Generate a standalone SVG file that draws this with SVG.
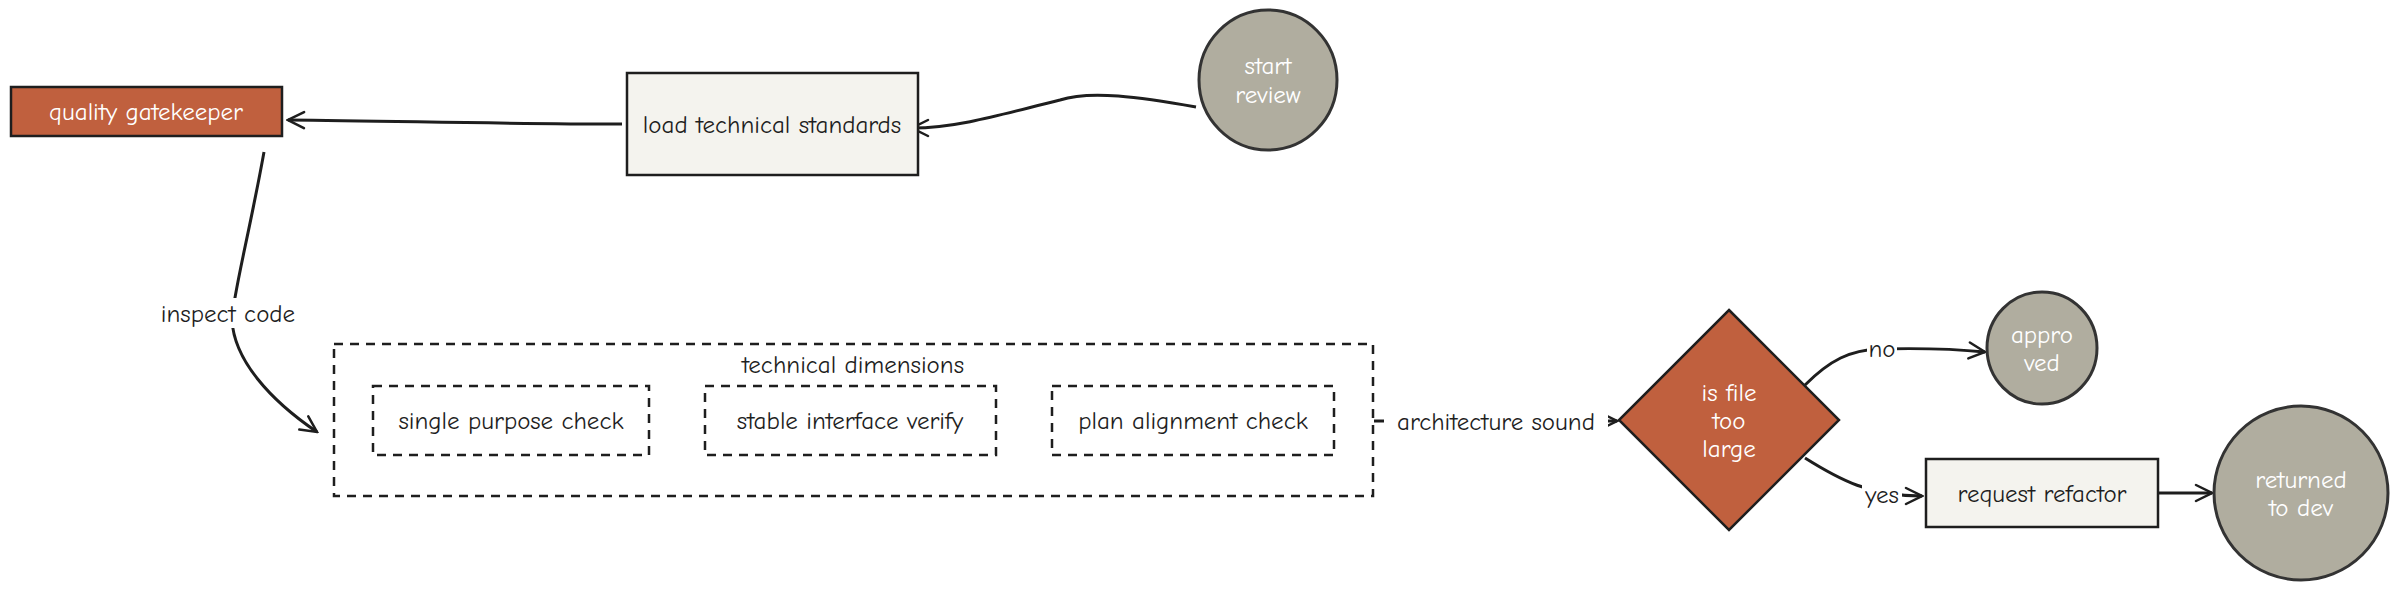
<svg xmlns="http://www.w3.org/2000/svg" width="2400" height="591" viewBox="0 0 2400 591">
<defs>
<marker id="ah" viewBox="0 0 20 20" refX="18" refY="10" markerWidth="20" markerHeight="20" markerUnits="userSpaceOnUse" orient="auto">
<path d="M2,2 L18,10 L2,18" fill="none" stroke="#1e1e1e" stroke-width="2.5" stroke-linecap="round"/>
</marker>
</defs>
<style>
text{font-family:"Comic Neue","Liberation Sans",sans-serif;font-size:25px;fill:#1e1e1e;text-anchor:middle;dominant-baseline:central}
.w{fill:#ffffff}
.box{fill:#f4f3ee;stroke:#1e1e1e;stroke-width:2.5}
.org{fill:#c0603e;stroke:#1e1e1e;stroke-width:2.5}
.gry{fill:#b0ad9f;stroke:#333;stroke-width:3}
.dash{fill:none;stroke:#1e1e1e;stroke-width:2.5;stroke-dasharray:9 7}
.c{fill:none;stroke:#1e1e1e;stroke-width:3}
.lb{fill:#ffffff;stroke:none}
</style>
<g id="connectors">
<path class="c" d="M1196,107 C1140,97 1090,90 1060,100 C1010,112 960,128 912,128" marker-end="url(#ah)"/>
<path class="c" d="M622,124 C500,124 400,121 288,120" marker-end="url(#ah)"/>
<path class="c" d="M264,152 C250,230 232,300 232,320 C234,360 270,400 317,432" marker-end="url(#ah)"/>
<rect class="lb" x="156" y="298" width="148" height="30"/>
<text x="228" y="313">inspect code</text>
<path class="c" d="M1374,421 L1617,421" marker-end="url(#ah)"/>
<rect class="lb" x="1384" y="406" width="224" height="30"/>
<text x="1496" y="421">architecture sound</text>
<path class="c" d="M1805,385 C1830,360 1850,350 1880,349 C1920,348 1955,349 1985,352" marker-end="url(#ah)"/>
<rect class="lb" x="1867" y="336" width="30" height="26"/>
<text x="1882" y="348">no</text>
<path class="c" d="M1805,458 C1840,480 1870,496 1922,496" marker-end="url(#ah)"/>
<rect class="lb" x="1862" y="482" width="40" height="28"/>
<text x="1882" y="494">yes</text>
<path class="c" d="M2159,493 L2212,493" marker-end="url(#ah)"/>
</g>
<g id="start-review"><ellipse class="gry" cx="1268" cy="80" rx="69" ry="70"/><text class="w" x="1268" y="65">start</text><text class="w" x="1268" y="94">review</text></g>
<g id="load-standards"><rect class="box" x="627" y="73" width="291" height="102"/><text x="772" y="124">load technical standards</text></g>
<g id="quality-gatekeeper"><rect class="org" x="11" y="87" width="271" height="49"/><text class="w" x="146" y="111">quality gatekeeper</text></g>
<g id="technical-dimensions"><rect class="dash" x="334" y="344" width="1039" height="152"/><text x="853" y="364">technical dimensions</text></g>
<g id="single-purpose"><rect class="dash" x="373" y="386" width="276" height="69"/><text x="511" y="420">single purpose check</text></g>
<g id="stable-interface"><rect class="dash" x="705" y="386" width="291" height="69"/><text x="850" y="420">stable interface verify</text></g>
<g id="plan-alignment"><rect class="dash" x="1052" y="386" width="282" height="69"/><text x="1193" y="420">plan alignment check</text></g>
<g id="is-file-too-large"><polygon class="org" points="1729,310 1839,420 1729,530 1619,420"/><text class="w" x="1729" y="392">is file</text><text class="w" x="1729" y="420">too</text><text class="w" x="1729" y="448">large</text></g>
<g id="approved"><ellipse class="gry" cx="2042" cy="348" rx="55" ry="56"/><text class="w" x="2042" y="334">appro</text><text class="w" x="2042" y="362">ved</text></g>
<g id="request-refactor"><rect class="box" x="1926" y="459" width="232" height="68"/><text x="2042" y="493">request refactor</text></g>
<g id="returned-to-dev"><ellipse class="gry" cx="2301" cy="493" rx="87" ry="87"/><text class="w" x="2301" y="479">returned</text><text class="w" x="2301" y="507">to dev</text></g>
</svg>
